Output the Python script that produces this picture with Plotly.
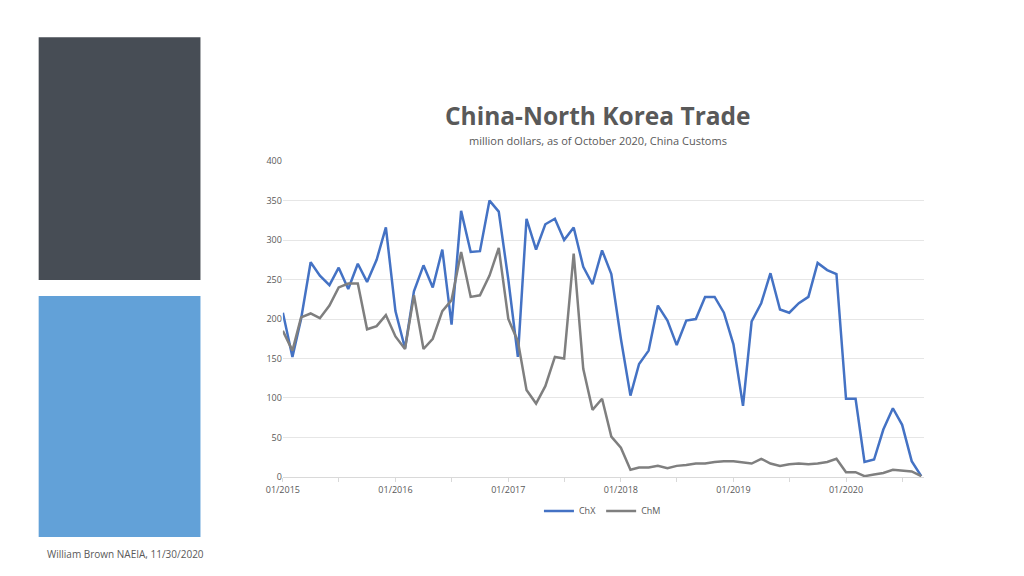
import plotly.graph_objects as go
import pandas as pd

months = pd.date_range("2015-01-01", "2020-09-01", freq="MS")
chx = [208,152,200,272,255,243,265,238,270,247,275,316,
       210,163,235,268,240,288,193,337,285,286,350,336,
       250,152,327,288,320,327,300,316,266,244,287,257,
       175,103,143,160,217,198,167,198,200,228,228,208,
       168,90,197,220,258,212,208,220,228,271,262,257,
       99,99,19,22,60,87,66,20,1]
chm = [185,160,202,207,201,217,240,245,245,187,191,205,
       178,162,230,162,175,210,224,285,228,230,255,290,
       200,172,110,93,115,152,150,283,137,85,99,51,
       37,9,12,12,14,11,14,15,17,17,19,20,
       20,18,17,23,17,14,16,17,16,17,19,23,
       6,6,1,3,5,9,8,7,1]

W, H = 1024, 576
def px(x): return ((x - 25.4) / 0.963) / W
def py(y): return 1 - ((y - 14.8) / 0.978) / H

fig = go.Figure()
fig.add_trace(go.Scatter(x=months, y=chx, mode="lines", name="ChX",
                         line=dict(color="#4472c4", width=2.5)))
fig.add_trace(go.Scatter(x=months, y=chm, mode="lines", name="ChM",
                         line=dict(color="#7f7f7f", width=2.5)))

fig.update_layout(
    autosize=True, margin=dict(l=0, r=0, t=0, b=0),
    paper_bgcolor="white", plot_bgcolor="white",
    font=dict(family="Open Sans, Lato, sans-serif", color="#595959"),
    showlegend=True,
    legend=dict(orientation="h", x=px(600), xanchor="center", y=py(511), yanchor="middle",
                itemwidth=30, font=dict(size=9, color="#595959")),
    xaxis=dict(domain=[px(282), px(920)], type="date",
               range=["2015-01-01", "2020-09-10"],
               tickformat="%m/%Y", dtick="M12", tick0="2015-01-01",
               ticks="outside", ticklen=4, tickcolor="#d9d9d9",
               minor=dict(dtick="M6", ticks="outside", ticklen=4, tickcolor="#d9d9d9"),
               showgrid=False, showline=True, linecolor="#d9d9d9",
               tickfont=dict(size=9, color="#595959")),
    yaxis=dict(domain=[py(477), py(161)], range=[0, 400], dtick=50,
               showgrid=True, gridcolor="#e6e6e6", zeroline=False,
               showline=False, tickfont=dict(size=9, color="#595959")),
    shapes=[
        dict(type="rect", xref="paper", yref="paper", x0=px(39), x1=px(200),
             y0=py(280), y1=py(37), fillcolor="#474d55", line=dict(width=0)),
        dict(type="rect", xref="paper", yref="paper", x0=px(39), x1=px(200),
             y0=py(537), y1=py(296), fillcolor="#62a1d8", line=dict(width=0)),
    ],
    annotations=[
        dict(text="<b>China-North Korea Trade</b>", xref="paper", yref="paper",
             x=px(596), y=py(115), xanchor="center", yanchor="middle", showarrow=False,
             font=dict(size=24.5, color="#595959")),
        dict(text="million dollars, as of October 2020, China Customs", xref="paper", yref="paper",
             x=px(596), y=py(140), xanchor="center", yanchor="middle", showarrow=False,
             font=dict(size=11, color="#595959")),
        dict(text="William Brown NAEIA, 11/30/2020", xref="paper", yref="paper",
             x=px(45), y=py(554), xanchor="left", yanchor="middle", showarrow=False,
             font=dict(size=10, color="#595959")),
    ],
)
fig.write_html("out.html", default_width="100%", default_height="100vh")
